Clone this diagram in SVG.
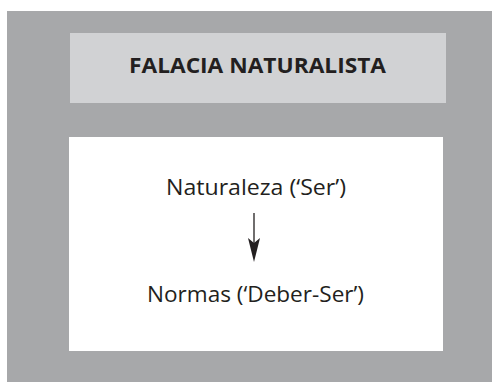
<svg xmlns="http://www.w3.org/2000/svg" width="492" height="382" viewBox="0 0 492 382">
<style>
.t{font-family:"Open Sans","Liberation Sans",sans-serif;fill:#231f20;text-anchor:middle}
.title{font-weight:bold;font-size:22px}
.lbl{font-size:22px}
</style>
<rect x="7" y="11" width="485" height="371" fill="#a7a8aa"/>
<g id="title">
<rect x="70" y="33" width="376" height="70" fill="#d1d2d4"/>
<text class="t title" x="257.5" y="73" textLength="257" lengthAdjust="spacingAndGlyphs">FALACIA NATURALISTA</text>
</g>
<g id="panel">
<rect x="69" y="137" width="374" height="214" fill="#ffffff"/>
</g>
<g id="naturaleza">
<text class="t lbl" x="256" y="195" textLength="180" lengthAdjust="spacingAndGlyphs">Naturaleza (‘Ser’)</text>
</g>
<g id="normas">
<text class="t lbl" x="255.5" y="302" textLength="217" lengthAdjust="spacingAndGlyphs">Normas (‘Deber-Ser’)</text>
</g>
<g id="connectors">
<path d="M254,213 V258" stroke="#231f20" stroke-width="1.3" fill="none"/>
<path d="M248,238 L254,243 L260,238 L254,262 Z" fill="#231f20"/>
</g>
</svg>
